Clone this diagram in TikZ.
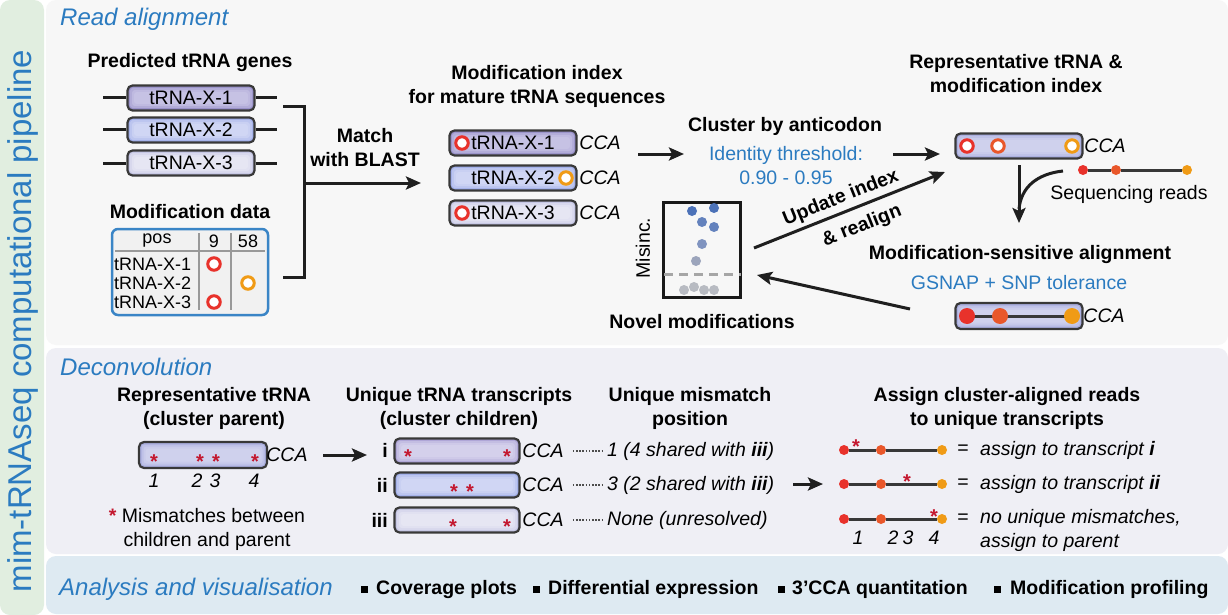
\documentclass[tikz,border=0pt]{standalone}
\usepackage{fontspec}
\setmainfont{Liberation Sans}
\usetikzlibrary{arrows.meta}

\definecolor{pipeblue}{HTML}{2B7BC0}
\definecolor{stripgreen}{HTML}{E1EEE0}
\definecolor{panelgray}{HTML}{F7F7F7}
\definecolor{panellav}{HTML}{EFEFF5}
\definecolor{panelblue}{HTML}{DEEAF2}
\definecolor{tabblue}{HTML}{3A85C6}
\definecolor{tabfill}{HTML}{F1F1F1}
\definecolor{modred}{HTML}{E8322B}
\definecolor{modorred}{HTML}{E9572A}
\definecolor{modorange}{HTML}{F09B16}
\definecolor{starred}{HTML}{C3172E}
\definecolor{boxline}{HTML}{383838}
\definecolor{purpedge}{HTML}{9A92CA}
\definecolor{purpmid}{HTML}{D0CCEB}
\definecolor{blueedge}{HTML}{A4B1EA}
\definecolor{bluemid}{HTML}{DADFF7}
\definecolor{paleedge}{HTML}{C6C7E5}
\definecolor{palemid}{HTML}{EEEEF7}
\definecolor{repedge}{HTML}{AAAEDF}
\definecolor{repmid}{HTML}{D7D9F1}
\definecolor{kidedge}{HTML}{AFA6D7}
\definecolor{kidmid}{HTML}{DDD9F0}
\definecolor{dotA}{HTML}{4C72B8}
\definecolor{dotB}{HTML}{6482BD}
\definecolor{dotC}{HTML}{8094C0}
\definecolor{dotD}{HTML}{9CA5BC}
\definecolor{dotE}{HTML}{B8BBC2}

\newcommand\bodysize{\fontsize{19.5}{24}\selectfont}
\newcommand\tabsize{\fontsize{18}{20}\selectfont}
\newcommand\titlesize{\fontsize{24}{28}\selectfont}

\tikzset{
	conn/.style={line width=3pt, draw=black!88},
	arr/.style={conn, -{Stealth[length=15pt, width=13pt, inset=3pt]}},
	head/.style={font=\bfseries\bodysize, align=center, inner sep=0pt},
	plain/.style={font=\bodysize, inner sep=0pt},
	note/.style={font=\itshape\bodysize, inner sep=0pt},
	bluenote/.style={font=\bodysize, text=pipeblue, inner sep=0pt},
	section/.style={font=\itshape\titlesize, text=pipeblue, anchor=west, inner sep=0pt},
	trna/.style={draw=boxline, line width=2.2pt, rounded corners=5pt, inner sep=0pt,
		minimum width=127pt, minimum height=25pt, fill=#1edge, font=\bodysize,
		path picture={\foreach \ins in {2.5,4.5,6.5}
			\fill[#1mid, opacity=.45, rounded corners=3pt]
			([shift={(\ins pt,\ins pt)}]path picture bounding box.south west) rectangle
			([shift={(-\ins pt,-\ins pt)}]path picture bounding box.north east);}},
	mod/.style={circle, draw=#1, line width=3pt, fill=white, minimum size=12.5pt, inner sep=0pt},
	dot/.style={circle, fill=#1, minimum size=10pt, inner sep=0pt},
	bigdot/.style={circle, fill=#1, minimum size=16pt, inner sep=0pt},
	pdot/.style={circle, fill=#1, minimum size=10pt, inner sep=0pt},
	mm/.style={text=starred, font=\bfseries\fontsize{20}{20}\selectfont, inner sep=0pt, anchor=base, yshift=-11pt},
	readline/.style={line width=3pt, draw=boxline},
	bullet/.style={fill=black, minimum size=7pt, inner sep=0pt}
}

\begin{document}
\begin{tikzpicture}[x=1pt, y=-1pt]
\useasboundingbox (0,0) rectangle (1228,615);

% panels
\fill[white] (0,0) rectangle (1228,615);
\fill[stripgreen, rounded corners=10pt] (0,0) rectangle (44,615);
\fill[panelgray, rounded corners=10pt] (46,0) rectangle (1228,345);
\fill[panellav, rounded corners=10pt] (46,348) rectangle (1228,554);
\fill[panelblue, rounded corners=10pt] (46,556) rectangle (1228,614);

\node[rotate=90, text=pipeblue, font=\fontsize{33}{33}\selectfont, inner sep=0pt] (vtitle) at (23,321) {mim-tRNAseq computational pipeline};

%% Read alignment
\node[section] (secread) at (60,19) {Read alignment};

\node[head] (hgenes) at (190,63) {Predicted tRNA genes};
\node[trna=purp] (g1) at (191,98) {tRNA-X-1};
\node[trna=blue] (g2) at (191,130) {tRNA-X-2};
\node[trna=pale] (g3) at (191,163) {tRNA-X-3};
\foreach \g in {g1,g2,g3} {
	\draw[conn] (\g.west) -- ++(-23,0);
	\draw[conn] (\g.east) -- ++(21,0);
}

\node[head] (hdata) at (190,212) {Modification data};
\node[draw=tabblue, line width=2.5pt, rounded corners=6pt, fill=tabfill, minimum width=156pt, minimum height=86pt] (mtab) at (190,272) {};
\node[font=\tabsize, inner sep=0pt] (tpos) at (157,241) {pos};
\node[font=\tabsize, inner sep=0pt] (tnine) at (214,241) {9};
\node[font=\tabsize, inner sep=0pt] (tfifty) at (248,241) {58};
\draw[line width=2pt, draw=black!40] (115,251) -- (265,251);
\draw[line width=2pt, draw=black!40] (199,233) -- (199,310);
\draw[line width=2pt, draw=black!40] (231,233) -- (231,310);
\node[font=\tabsize, inner sep=0pt, anchor=west] (trow1) at (114,264) {tRNA-X-1};
\node[font=\tabsize, inner sep=0pt, anchor=west] (trow2) at (114,283) {tRNA-X-2};
\node[font=\tabsize, inner sep=0pt, anchor=west] (trow3) at (114,302) {tRNA-X-3};
\node[mod=modred] (tc1) at (214,264) {};
\node[mod=modorange] (tc2) at (248,283) {};
\node[mod=modred] (tc3) at (214,302) {};

% bracket and BLAST
\coordinate (brtop) at (283,107);
\coordinate (brbot) at (283,277);
\coordinate (blastout) at (304,183);
\coordinate (blastin) at (421,183);
\draw[conn] (brtop) -- ++(21,0) |- (brbot);
\draw[arr] (blastout) -- (blastin);
\node[head] (hblast) at (365,148) {Match\\with BLAST};

% modification index
\node[head] (hindex) at (537,86) {Modification index\\for mature tRNA sequences};
\node[trna=purp] (m1) at (513,143) {tRNA-X-1};
\node[trna=blue] (m2) at (513,178) {tRNA-X-2};
\node[trna=pale] (m3) at (513,213) {tRNA-X-3};
\node[mod=modred] (mc1) at (462,143) {};
\node[mod=modorange] (mc2) at (566,178) {};
\node[mod=modred] (mc3) at (462,213) {};
\node[note] (cca1) at (600,143) {CCA};
\node[note] (cca2) at (600,178) {CCA};
\node[note] (cca3) at (600,213) {CCA};

% cluster
\coordinate (clin) at (638,154);
\coordinate (clout) at (684,154);
\draw[arr] (clin) -- (clout);
\node[head] (hcluster) at (785,126) {Cluster by anticodon};
\node[bluenote, align=center, font=\bodysize] (ident) at (786,166) {Identity threshold:\\0.90 - 0.95};
\coordinate (repin1) at (893,154);
\coordinate (repin2) at (940,154);
\draw[arr] (repin1) -- (repin2);

% representative
\node[head] (hrep) at (1016,74) {Representative tRNA \&\\modification index};
\node[trna=rep] (rep) at (1019,146) {};
\node[mod=modred] (rc1) at (967,146) {};
\node[mod=modorred] (rc2) at (998,146) {};
\node[mod=modorange] (rc3) at (1072,146) {};
\node[note] (ccarep) at (1105,146) {CCA};

\node[dot=modred] (sr1) at (1083,170) {};
\node[dot=modorred] (sr2) at (1116,170) {};
\node[dot=modorange] (sr3) at (1187,170) {};
\draw[readline] (sr1) -- (sr2) -- (sr3);
\node[plain] (seqreads) at (1129,194) {Sequencing reads};

\coordinate (mergetop) at (1019,165);
\coordinate (mergebot) at (1019,223);
\coordinate (curvestart) at (1063,171);
\draw[arr] (mergetop) -- (mergebot);
\draw[conn] (curvestart) .. controls (1036,174) and (1021,188) .. (1019,209);

% alignment
\node[head] (halign) at (1020,254) {Modification-sensitive alignment};
\node[bluenote] (gsnap) at (1019,283) {GSNAP + SNP tolerance};
\node[trna=rep, minimum height=26pt] (aln) at (1019,316) {};
\coordinate (alnL) at (967,316);
\coordinate (alnR) at (1072,316);
\draw[readline] (alnL) -- (alnR);
\node[bigdot=modred] (ad1) at (967,316) {};
\node[bigdot=modorred] (ad2) at (1000,316) {};
\node[bigdot=modorange] (ad3) at (1072,316) {};
\node[note] (ccaaln) at (1104,316) {CCA};

% novel modifications plot
\node[draw=black!90, line width=3pt, minimum width=77pt, minimum height=95pt, inner sep=0pt] (plot) at (702,250) {};
\draw[line width=3pt, draw=black!35, dash pattern=on 9pt off 6pt] (664,274) -- (741,274);
\node[pdot=dotA] (p1) at (692,211) {};
\node[pdot=dotA] (p2) at (714,208) {};
\node[pdot=dotB] (p3) at (702,222) {};
\node[pdot=dotB] (p4) at (714,227) {};
\node[pdot=dotC] (p5) at (702,244) {};
\node[pdot=dotD] (p6) at (696,261) {};
\node[pdot=dotE] (p7) at (684,290) {};
\node[pdot=dotE] (p8) at (694,287) {};
\node[pdot=dotE] (p9) at (704,290) {};
\node[pdot=dotE] (p10) at (714,290) {};
\node[plain, rotate=90] (misinc) at (643,248) {Misinc.};
\node[head] (hnovel) at (702,322) {Novel modifications};

\coordinate (updfrom) at (754,248);
\coordinate (updto) at (945,172);
\draw[arr] (updfrom) -- (updto);
\node[head, rotate=21.7] (lupd) at (841,198) {Update index};
\node[head, rotate=21.7] (lreal) at (862,226) {\& realign};
\coordinate (backfrom) at (910,309);
\coordinate (backto) at (757,275);
\draw[arr] (backfrom) -- (backto);

%% Deconvolution
\node[section] (secdeconv) at (60,367) {Deconvolution};

\node[head] (hparent) at (214,408) {Representative tRNA\\(cluster parent)};
\node[trna=rep, minimum width=128pt, minimum height=26pt] (parent) at (203,455) {};
\node[mm] (ps1) at (154,457) {*};
\node[mm] (ps2) at (200,457) {*};
\node[mm] (ps3) at (216,457) {*};
\node[mm] (ps4) at (255,457) {*};
\node[note] (ccapar) at (287,455) {CCA};
\node[note] (pn1) at (154,481) {1};
\node[note] (pn2) at (197,481) {2};
\node[note] (pn3) at (215,481) {3};
\node[note] (pn4) at (254,481) {4};
\node[plain, align=center] (legend) at (207,529) {\textcolor{starred}{\bfseries *} Mismatches between\\children and parent};

\coordinate (kidsin) at (323,455);
\coordinate (kidsto) at (367,455);
\draw[arr] (kidsin) -- (kidsto);

\node[head] (hkids) at (459,408) {Unique tRNA transcripts\\(cluster children)};
\node[trna=kid, minimum width=125pt] (k1) at (457,451) {};
\node[trna=blue, minimum width=125pt] (k2) at (457,485) {};
\node[trna=pale, minimum width=125pt] (k3) at (457,520) {};
\node[head, anchor=east] (ki) at (388,450) {i};
\node[head, anchor=east] (kii) at (388,485) {ii};
\node[head, anchor=east] (kiii) at (388,520) {iii};
\node[mm] (ks1) at (408,452) {*};
\node[mm] (ks2) at (507,452) {*};
\node[mm] (ks3) at (454,487) {*};
\node[mm] (ks4) at (470,487) {*};
\node[mm] (ks5) at (453,522) {*};
\node[mm] (ks6) at (507,522) {*};
\node[note] (ccak1) at (543,451) {CCA};
\node[note] (ccak2) at (543,485) {CCA};
\node[note] (ccak3) at (543,520) {CCA};
\foreach \r in {1,2,3} {
	\draw[line width=2pt, draw=black!70, dash pattern=on 1.6pt off 1.6pt] (ccak\r.east) ++(9,0) -- ++(31,0);
}

\node[head] (huniq) at (690,408) {Unique mismatch\\position};
\node[note, anchor=west] (u1) at (607,451) {1 (4 shared with \textbf{iii})};
\node[note, anchor=west] (u2) at (607,485) {3 (2 shared with \textbf{iii})};
\node[note, anchor=west] (u3) at (607,520) {None (unresolved)};
\coordinate (asgin) at (793,484);
\coordinate (asgto) at (823,484);
\draw[arr] (asgin) -- (asgto);

\node[head] (hassign) at (1007,408) {Assign cluster-aligned reads\\to unique transcripts};
\foreach \r/\yy in {1/450, 2/484, 3/519} {
	\node[dot=modred] (ra\r) at (844,\yy) {};
	\node[dot=modorred] (rb\r) at (881,\yy) {};
	\node[dot=modorange] (rc\r) at (942,\yy) {};
	\node[plain] (eq\r) at (963,\yy) {=};
	\draw[readline] (ra\r) -- (rb\r) -- (rc\r);
}
\node[mm] (rs1) at (856,442) {*};
\node[mm] (rs2) at (907,477) {*};
\node[mm] (rs3) at (934,512) {*};
\node[note] (rn1) at (858,538) {1};
\node[note] (rn2) at (893,538) {2};
\node[note] (rn3) at (908,538) {3};
\node[note] (rn4) at (934,538) {4};
\node[note, anchor=west] (as1) at (980,450) {assign to transcript \textbf{i}};
\node[note, anchor=west] (as2) at (980,484) {assign to transcript \textbf{ii}};
\node[note, anchor=west, align=left] (as3) at (980,530) {no unique mismatches,\\assign to parent};

%% Analysis and visualisation
\node[section] (secana) at (59,589) {Analysis and visualisation};
\node[bullet] (b1) at (364,589) {};
\node[head, anchor=west] (t1) at (376,589) {Coverage plots};
\node[bullet] (b2) at (536,589) {};
\node[head, anchor=west] (t2) at (548,589) {Differential expression};
\node[bullet] (b3) at (781,589) {};
\node[head, anchor=west] (t3) at (792,589) {3’CCA quantitation};
\node[bullet] (b4) at (997,589) {};
\node[head, anchor=west] (t4) at (1010,589) {Modification profiling};

\end{tikzpicture}
\end{document}
